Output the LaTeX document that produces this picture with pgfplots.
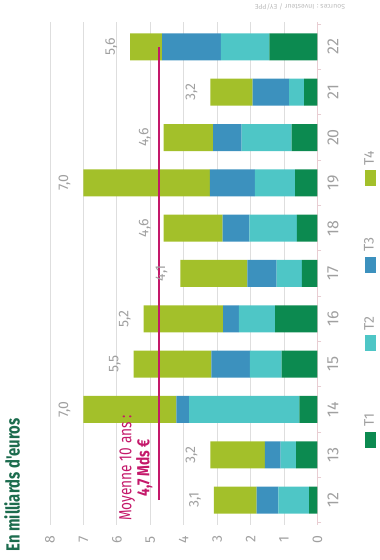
\documentclass[border=0pt]{standalone}
\usepackage{pgfplots}
\usepackage{pgfplotstable}
\pgfplotsset{compat=1.18}
\usepackage{fontspec}
\setmainfont{Fira Sans}
\newfontfamily\condfont{Fira Sans}[FakeStretch=0.78]
\definecolor{tone}{RGB}{12,138,80}
\definecolor{ttwo}{RGB}{78,198,198}
\definecolor{tthree}{RGB}{60,145,190}
\definecolor{tfour}{RGB}{163,192,42}
\definecolor{mag}{RGB}{196,24,106}
\definecolor{titlegreen}{RGB}{28,108,78}
\definecolor{labgrey}{RGB}{160,160,160}
\definecolor{gridgrey}{RGB}{222,222,222}
\definecolor{gridpink}{RGB}{232,205,210}
\pgfplotstableread{
cat T1 T2 T3 T4 tot
12 0.25 0.92 0.65 1.28 3.1
13 0.64 0.46 0.47 1.63 3.2
14 0.54 3.30 0.38 2.78 7.0
15 1.07 0.95 1.15 2.33 5.5
16 1.27 1.08 0.47 2.38 5.2
17 0.47 0.75 0.88 2.00 4.1
18 0.62 1.42 0.80 1.76 4.6
19 0.67 1.20 1.35 3.78 7.0
20 0.77 1.50 0.85 1.48 4.6
21 0.40 0.45 1.09 1.26 3.2
22 1.44 1.45 1.76 0.95 5.6
}\datatable
\pgfplotsset{frame/.style={
  at={(50pt,35pt)}, anchor=south west,
  scale only axis, width=267.5pt, height=503pt,
  xmin=0, xmax=8, x dir=reverse,
  ymin=11.45, ymax=22.55,
  enlargelimits=false,
  /pgf/number format/assume math mode=true}}
\begin{document}
\begin{tikzpicture}
\path[use as bounding box] (0pt,0pt) rectangle (380pt,560pt);
\begin{axis}[
  frame,
  xbar stacked, bar width=27pt,
  xtick={1,...,8}, extra x ticks={0},
  extra x tick style={major grid style={draw=gridpink, line width=1pt}},
  ytick={12,...,22},
  minor ytick={11.5,12.5,...,22.5},
  yticklabel pos=right, ytick pos=right, xtick pos=left,
  axis line style={draw=none},
  xmajorgrids, major grid style={draw=gridgrey, line width=0.8pt},
  major tick length=0pt, minor tick length=4pt,
  minor tick style={draw=gridpink, line width=0.8pt},
  tick align=outside,
  ticklabel style={font=\fontsize{14}{14}\selectfont, text=labgrey},
  xticklabel style={rotate=90, anchor=east, inner sep=0pt, outer sep=11pt},
  yticklabel style={rotate=90, anchor=north, inner sep=0pt, outer sep=10pt, font=\fontsize{16}{16}\selectfont},
]
\addplot[fill=tone, draw=none] table[x=T1, y=cat] {\datatable};
\addplot[fill=ttwo, draw=none] table[x=T2, y=cat] {\datatable};
\addplot[fill=tthree, draw=none] table[x=T3, y=cat] {\datatable};
\addplot[fill=tfour, draw=none] table[x=T4, y=cat] {\datatable};
\end{axis}
\begin{axis}[frame, hide axis]
\addplot[draw=none, mark=none, point meta=explicit,
  nodes near coords={\pgfmathprintnumber[fixed,fixed zerofill,precision=1,use comma]{\pgfplotspointmeta}},
  nodes near coords align={anchor=south},
  every node near coord/.append style={rotate=90, inner sep=0pt, outer sep=13pt,
    font=\fontsize{14}{14}\selectfont, text=labgrey}]
  table[x=tot, y=cat, meta=tot] {\datatable};
\addplot[draw=mag, line width=1.6pt, mark=none] coordinates {(4.74,12) (4.74,22)};
\end{axis}
% title
\node[rotate=90, text=titlegreen, font=\condfont\bfseries\fontsize{19}{19}\selectfont] at (12pt,75pt) {En milliards d'euros};
% mean annotation
\node[rotate=90, text=mag, align=center, font=\condfont\fontsize{17.5}{18}\selectfont] at (136pt,92pt) {Moyenne 10 ans :\\ \textbf{4,7 Mds €}};
% sources
\node[rotate=180, text=labgrey!70, font=\fontsize{7}{7}\selectfont] at (300pt,553pt) {Sources : Investeur / EY/PPE};
% legend
\foreach \c/\t/\yy in {tone/T1/120, ttwo/T2/216.5, tthree/T3/295, tfour/T4/381.5}{
  \fill[\c] (364.5pt,\yy pt-8pt) rectangle (375.5pt,\yy pt+8pt);
  \node[rotate=90, anchor=west, inner sep=0pt, text=labgrey, font=\fontsize{14}{14}\selectfont] at (369pt,\yy pt+13pt) {\t};
}
\end{tikzpicture}
\end{document}
